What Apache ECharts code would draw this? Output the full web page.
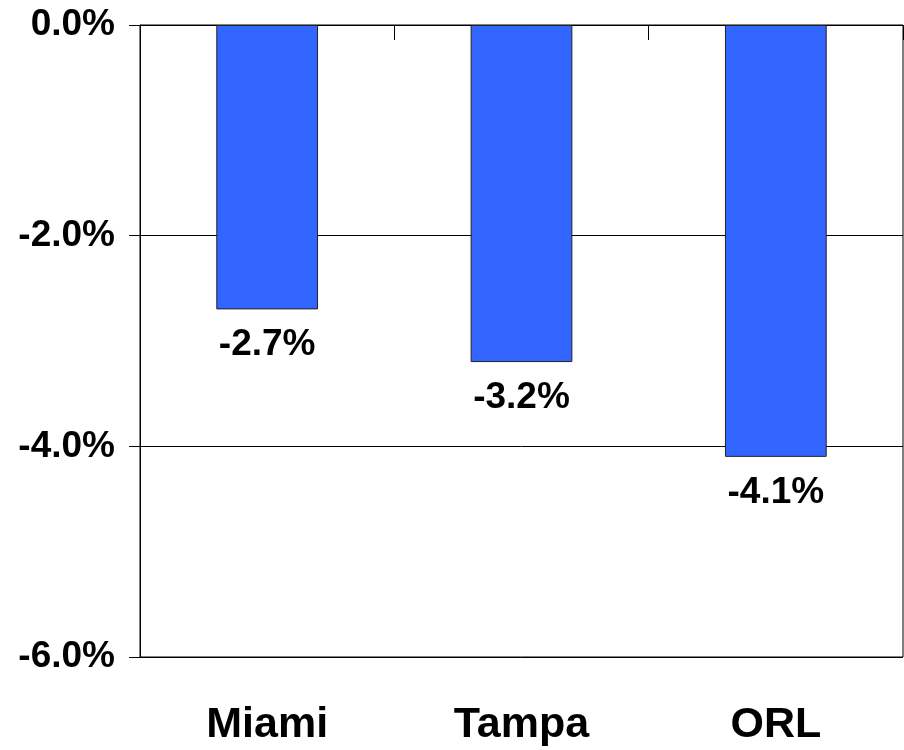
<!DOCTYPE html>
<html>
<head>
<meta charset="utf-8">
<script src="https://cdn.jsdelivr.net/npm/echarts@6/dist/echarts.min.js"></script>
<style>
  html, body { margin: 0; padding: 0; background: #fff; }
  #chart { width: 904px; height: 750px; }
</style>
</head>
<body>
<div id="chart"></div>
<script>
const categories = ['Miami', 'Tampa', 'ORL']
const changes = [-2.7, -3.2, -4.1]
const yTicks = [0, -2, -4, -6]

const chart = echarts.init(document.getElementById('chart'))
chart.setOption({
  animation: false,
  grid: { left: 140, right: 1, top: 25, bottom: 93, show: true, borderColor: '#000', borderWidth: 1 },
  xAxis: [
    {
      type: 'category',
      data: categories,
      position: 'top',
      axisLine: { show: true, onZero: false, lineStyle: { color: '#000', width: 1 } },
      axisTick: { show: true, inside: true, interval: 0, alignWithLabel: false, length: 15, lineStyle: { color: '#000', width: 1 } },
      axisLabel: { show: false }
    },
    {
      type: 'category',
      data: categories,
      position: 'bottom',
      axisLine: { show: false },
      axisTick: { show: false },
      axisLabel: {
        margin: 47,
        fontFamily: 'Liberation Sans, Arial, sans-serif',
        fontWeight: 'bold',
        fontSize: 43,
        color: '#000'
      }
    }
  ],
  yAxis: {
    type: 'value',
    min: yTicks[yTicks.length - 1],
    max: yTicks[0],
    interval: 2,
    axisLine: { show: true, lineStyle: { color: '#000' } },
    axisTick: { show: true, length: 11, lineStyle: { color: '#000' } },
    splitLine: { lineStyle: { color: '#000', width: 1 } },
    axisLabel: {
      margin: 25,
      fontFamily: 'Liberation Sans, Arial, sans-serif',
      fontWeight: 'bold',
      fontSize: 37,
      color: '#000',
      formatter: v => v.toFixed(1) + '%'
    }
  },
  series: [{
    type: 'bar',
    xAxisIndex: 0,
    data: changes,
    barWidth: '40%',
    itemStyle: { color: '#3366FF', borderColor: '#222', borderWidth: 1 },
    label: {
      show: true,
      position: 'bottom',
      distance: 17,
      fontFamily: 'Liberation Sans, Arial, sans-serif',
      fontWeight: 'bold',
      fontSize: 37,
      color: '#000',
      formatter: p => p.value.toFixed(1) + '%'
    }
  }]
})
</script>
</body>
</html>
